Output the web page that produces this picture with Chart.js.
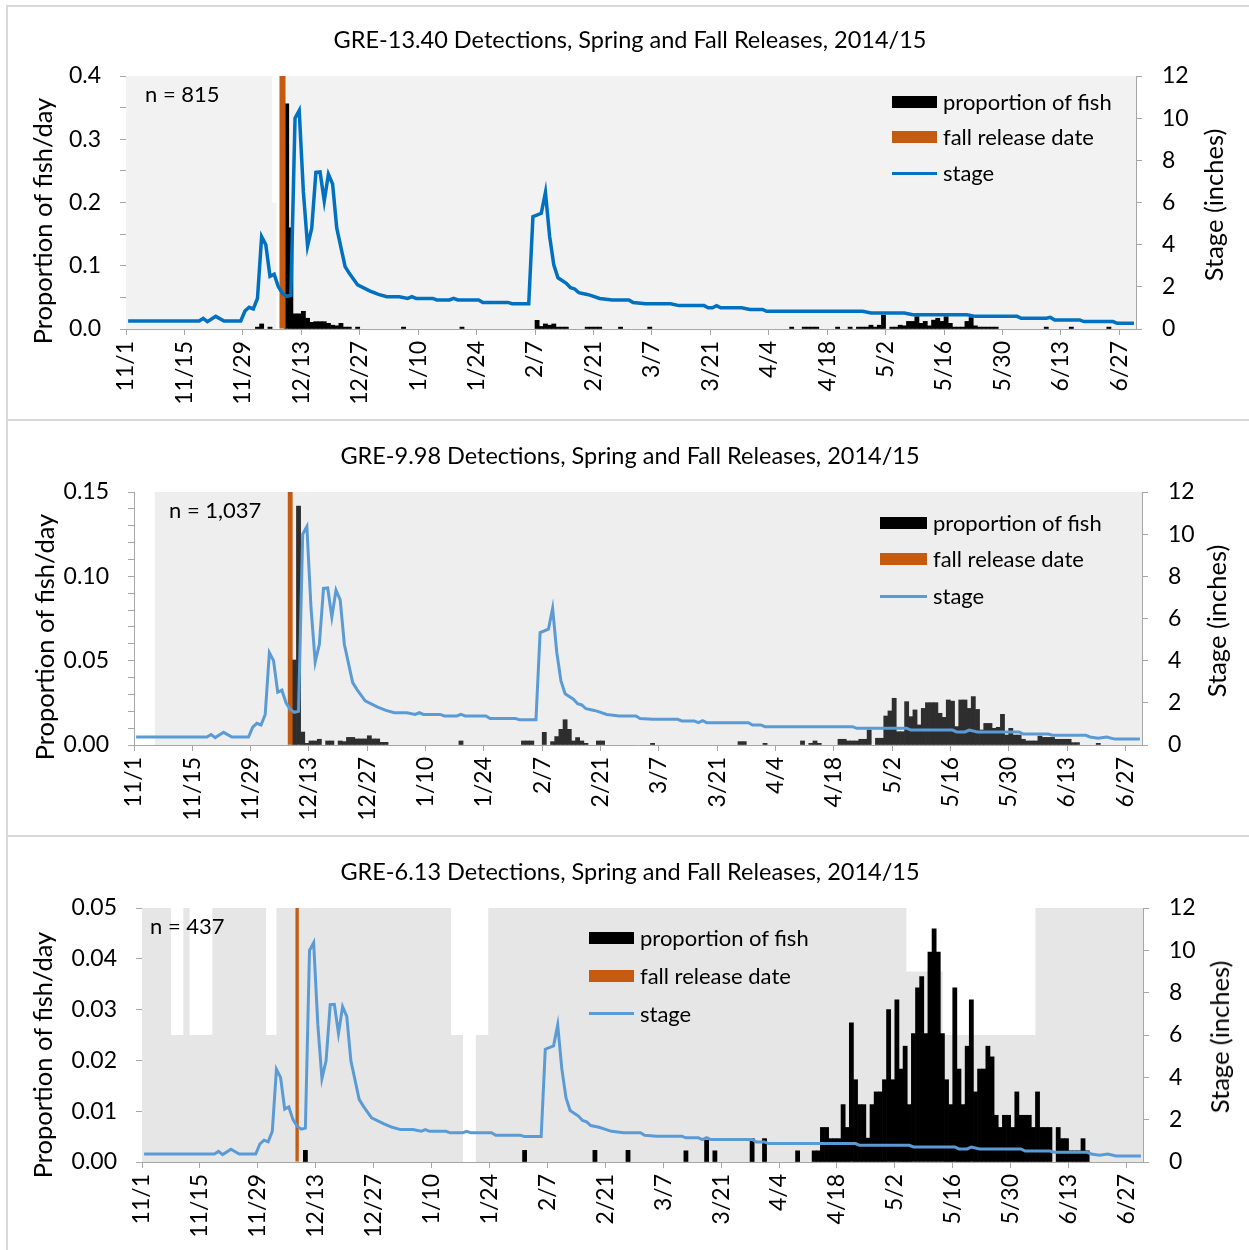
<!DOCTYPE html>
<html>
<head>
<meta charset="utf-8">
<title>GRE detections 2014/15</title>
<script src="https://cdn.jsdelivr.net/npm/chart.js@4.4.1/dist/chart.umd.min.js"></script>
<style>
  body { margin: 0; width: 1249px; height: 1250px; background: #fff; position: relative; overflow: hidden;
         font-family: Lato, "Open Sans", sans-serif; color: #000; }
  .frame { position: absolute; left: 6px; width: 1250px; border: 2px solid #d9d9d9; box-sizing: border-box; }
  canvas { position: absolute; left: 0; }
  .txt { position: absolute; white-space: nowrap; line-height: 24px; font-size: 22px; }
  .rot { position: absolute; white-space: nowrap; font-size: 25.5px; line-height: 30px;
         transform: translate(-50%, -50%) rotate(-90deg); }
  .sw { position: absolute; }
</style>
</head>
<body>
<div class="frame" style="top:5px;height:416px"></div>
<div class="frame" style="top:419px;height:418px"></div>
<div class="frame" style="top:835px;height:420px"></div>
<canvas id="c1"></canvas>
<canvas id="c2"></canvas>
<canvas id="c3"></canvas>

<script>
// =====================================================
// DATOS — dias desde 11/1/2014
// =====================================================
const DAYS = 242;
const tickLabels = ["11/1", "11/15", "11/29", "12/13", "12/27", "1/10", "1/24", "2/7", "2/21",
  "3/7", "3/21", "4/4", "4/18", "5/2", "5/16", "5/30", "6/13", "6/27"];
const stageTicks = [0, 2, 4, 6, 8, 10, 12];

const titles = [
  "GRE-13.40 Detections, Spring and Fall Releases, 2014/15",
  "GRE-9.98 Detections, Spring and Fall Releases, 2014/15",
  "GRE-6.13 Detections, Spring and Fall Releases, 2014/15"
];
const notes = ["n = 815", "n = 1,037", "n = 437"];
const legendLabels = ["proportion of fish", "fall release date", "stage"];

// fecha de liberacion de otono (dia 37 = 12/8)
const releaseDay = [37, 37, 37];

// stage (pulgadas): [dia, valor]
const stageEarly = [[0, 0.38], [17, 0.38], [18, 0.5], [19, 0.35], [21, 0.6], [23, 0.38], [27, 0.38],
  [28, 0.85], [29, 1.03], [30, 0.95], [31, 1.45], [32, 4.38], [33, 4.0], [34, 2.5], [35, 2.6],
  [36, 2.0], [37, 1.69], [38, 1.55], [39, 1.6], [40, 10.0], [41, 10.36], [42, 6.5], [43, 3.94],
  [44, 4.78], [45, 7.43], [46, 7.45], [47, 6.07], [48, 7.34], [49, 6.88], [50, 4.78], [52, 2.96],
  [53, 2.64], [55, 2.09], [58, 1.8], [60, 1.64], [62, 1.53], [65, 1.53], [67, 1.45], [68, 1.53],
  [69, 1.45], [73, 1.45], [74, 1.38], [77, 1.38], [78, 1.45], [79, 1.38], [84, 1.38], [85, 1.26],
  [91, 1.26], [92, 1.2], [96, 1.2], [97, 5.33], [99, 5.49], [100, 6.48], [101, 4.4], [102, 3.04],
  [103, 2.43], [105, 2.17], [106, 1.96], [107, 1.9], [108, 1.72], [110, 1.64], [111, 1.58],
  [113, 1.45], [116, 1.38], [120, 1.38], [121, 1.26]];
const stageTail1 = [[124, 1.2], [130, 1.2], [132, 1.11], [138, 1.11], [139, 1.01], [140, 1.01],
  [141, 1.11], [142, 1.01], [147, 1.01], [149, 0.93], [152, 0.93], [153, 0.84], [176, 0.84],
  [178, 0.76], [186, 0.76], [188, 0.68], [201, 0.68], [203, 0.6], [213, 0.6], [214, 0.51],
  [220, 0.51], [221, 0.55], [222, 0.43], [228, 0.43], [229, 0.35], [236, 0.35], [237, 0.27], [241, 0.27]];
const stageTail2 = [[124, 1.22], [130, 1.22], [131, 1.14], [134, 1.14], [135, 1.06], [136, 1.15],
  [137, 1.06], [147, 1.06], [148, 0.95], [150, 0.95], [151, 0.87], [172, 0.87], [173, 0.79],
  [185, 0.79], [186, 0.71], [196, 0.71], [197, 0.62], [199, 0.62], [200, 0.71], [202, 0.62],
  [212, 0.62], [213, 0.52], [219, 0.52], [220, 0.46], [228, 0.46], [229, 0.38], [231, 0.32],
  [233, 0.38], [235, 0.28], [241, 0.28]];

// proporcion de peces por dia: [dia, valor]
const prop1 = [[31, 0.003], [32, 0.008], [34, 0.003], [38, 0.356], [39, 0.16], [40, 0.024], [41, 0.024],
  [42, 0.028], [43, 0.017], [44, 0.0105], [45, 0.0116], [46, 0.0116], [47, 0.0116], [48, 0.009],
  [49, 0.006], [50, 0.005], [51, 0.009], [52, 0.003], [53, 0.003], [55, 0.003], [66, 0.003],
  [80, 0.003], [98, 0.0137], [99, 0.004], [100, 0.008], [101, 0.006], [102, 0.008], [103, 0.003],
  [104, 0.003], [105, 0.003], [110, 0.003], [111, 0.003], [112, 0.003], [113, 0.003], [118, 0.003],
  [125, 0.003], [159, 0.003], [162, 0.003], [163, 0.003], [164, 0.003], [165, 0.003], [170, 0.003],
  [173, 0.003], [175, 0.003], [176, 0.003], [177, 0.003], [178, 0.006], [179, 0.003], [180, 0.006],
  [181, 0.022], [183, 0.003], [184, 0.003], [185, 0.006], [186, 0.005], [187, 0.012], [188, 0.012],
  [189, 0.0195], [190, 0.009], [191, 0.012], [192, 0.005], [193, 0.014], [194, 0.017], [195, 0.012],
  [196, 0.0195], [197, 0.009], [198, 0.003], [199, 0.003], [200, 0.003], [201, 0.012], [202, 0.018],
  [203, 0.005], [204, 0.003], [205, 0.003], [206, 0.003], [207, 0.003], [208, 0.003], [220, 0.003],
  [226, 0.003], [235, 0.003]];
const prop2 = [[38, 0.0504], [39, 0.1417], [40, 0.0077], [41, 0.001], [42, 0.0024], [43, 0.0024],
  [44, 0.0034], [46, 0.0024], [47, 0.0024], [49, 0.0024], [50, 0.002], [51, 0.0045], [52, 0.0045],
  [53, 0.0036], [54, 0.0036], [55, 0.0036], [56, 0.0055], [57, 0.0036], [58, 0.0036], [59, 0.0016],
  [60, 0.0016], [78, 0.0024], [93, 0.0024], [94, 0.0024], [95, 0.0024], [98, 0.0075], [100, 0.002],
  [101, 0.005], [102, 0.0093], [103, 0.015], [104, 0.0093], [105, 0.0024], [106, 0.0044], [107, 0.0024],
  [108, 0.001], [111, 0.0024], [112, 0.0024], [124, 0.001], [145, 0.002], [146, 0.002], [151, 0.001],
  [160, 0.0024], [162, 0.001], [163, 0.0024], [164, 0.001], [169, 0.0034], [170, 0.0034], [171, 0.0024],
  [172, 0.0024], [173, 0.0024], [174, 0.0034], [175, 0.0034], [176, 0.0089], [178, 0.004], [179, 0.004],
  [180, 0.0172], [181, 0.0202], [182, 0.0277], [183, 0.0079], [184, 0.0079], [185, 0.0257], [186, 0.0168],
  [187, 0.0208], [188, 0.0119], [189, 0.0217], [190, 0.0251], [191, 0.0251], [192, 0.0251], [193, 0.0188],
  [194, 0.0164], [195, 0.0267], [196, 0.026], [197, 0.0109], [198, 0.0267], [199, 0.0267], [200, 0.0217],
  [201, 0.0287], [202, 0.0211], [203, 0.0089], [204, 0.0128], [205, 0.0128], [206, 0.0099], [207, 0.0105],
  [208, 0.0182], [209, 0.0059], [210, 0.0099], [211, 0.0059], [212, 0.0059], [213, 0.0034], [214, 0.0024],
  [215, 0.0024], [216, 0.0024], [217, 0.0053], [218, 0.0045], [219, 0.0045], [220, 0.0045], [221, 0.0034],
  [222, 0.0034], [223, 0.0034], [224, 0.0034], [225, 0.0014], [226, 0.0014], [231, 0.001]];
const prop3 = [[39, 0.0023], [92, 0.0023], [109, 0.0023], [117, 0.0023], [131, 0.0022], [136, 0.0043],
  [138, 0.0022], [147, 0.0046], [150, 0.0046], [158, 0.0022], [162, 0.0022], [163, 0.0022], [164, 0.0068],
  [165, 0.0068], [166, 0.0046], [167, 0.0046], [168, 0.0046], [169, 0.0113], [170, 0.0068], [171, 0.0274],
  [172, 0.0162], [173, 0.0113], [174, 0.0113], [175, 0.0047], [176, 0.0113], [177, 0.0138], [178, 0.0138],
  [179, 0.0162], [180, 0.03], [181, 0.0162], [182, 0.0319], [183, 0.0183], [184, 0.0228], [185, 0.0113],
  [186, 0.0253], [187, 0.0343], [188, 0.0365], [189, 0.0253], [190, 0.0413], [191, 0.0459], [192, 0.0413],
  [193, 0.0253], [194, 0.0162], [195, 0.0113], [196, 0.0343], [197, 0.0183], [198, 0.0113], [199, 0.0228],
  [200, 0.0319], [201, 0.0138], [202, 0.0183], [203, 0.0183], [204, 0.0228], [205, 0.0207], [206, 0.0092],
  [207, 0.0068], [208, 0.0092], [209, 0.0092], [210, 0.0068], [211, 0.0138], [212, 0.0092], [213, 0.0092],
  [214, 0.0092], [215, 0.0068], [216, 0.0138], [217, 0.0068], [218, 0.0068], [219, 0.0068], [221, 0.0068],
  [222, 0.0046], [223, 0.0046], [224, 0.0022], [225, 0.0022], [226, 0.0022], [227, 0.0046], [228, 0.0022]];

// cobertura de receptores (fondo gris): [dia inicio, altura en eje izq]
const cover1 = [[0, 0.4], [35, 0.2], [36, 0], [37, 0.4]];
const cover2 = [[0, 0], [5, 0.15]];
const cover3 = [[0, 0.05], [7, 0.025], [10, 0.05], [11.5, 0.025], [17, 0.05], [30, 0.025], [32.5, 0.05],
  [74.7, 0.025], [77.6, 0], [80.7, 0.025], [83.7, 0.05], [184.8, 0.0375], [193.6, 0.025], [216, 0.05]];

// =====================================================
// CONFIG visual
// =====================================================
const AXIS = "#A6A6A6";
const ORANGE = "#C55A11";
const PAD_L = 11;
const TITLE_SIZE = 23.5;
Chart.defaults.font.family = "Lato, 'Open Sans', sans-serif";
Chart.defaults.color = "#000";

const panels = [
  { id: "c1", title: titles[0], note: notes[0], prop: prop1, cover: cover1, release: releaseDay[0],
    stage: stageEarly.concat(stageTail1), barColor: "#000", legendBar: "#000", shade: "#F2F2F2",
    stageColor: "#0070C0", stageWidth: 3.5,
    yMax: 0.4, yStep: 0.05, yLabelStep: 0.1, dec: 1, relWidth: 1.45,
    box: { top: 7, height: 412 }, plot: { l: 126, r: 1136, t: 76, b: 329 }, titleY: 40,
    noteAt: [145, 94], legend: { sx: 892, sw: 45, tx: 943, rows: [102, 137, 173] },
    leftTitle: [42, 221], rightTitle: [1213, 205] },
  { id: "c2", title: titles[1], note: notes[1], prop: prop2, cover: cover2, release: releaseDay[1],
    stage: stageEarly.concat(stageTail2), barColor: "#2E2E2E", legendBar: "#000", shade: "#EEEEEE",
    stageColor: "#5B9BD5", stageWidth: 3,
    yMax: 0.15, yStep: 0.01, yLabelStep: 0.05, dec: 2, relWidth: 1.0,
    box: { top: 421, height: 414 }, plot: { l: 134, r: 1142, t: 492, b: 745 }, titleY: 456,
    noteAt: [169, 510], legend: { sx: 880, sw: 47, tx: 933, rows: [523, 558.5, 596] },
    leftTitle: [44, 637], rightTitle: [1216, 621] },
  { id: "c3", title: titles[2], note: notes[2], prop: prop3, cover: cover3, release: releaseDay[2],
    stage: stageEarly.concat(stageTail2), barColor: "#000", legendBar: "#000", shade: "#E6E6E6",
    stageColor: "#5B9BD5", stageWidth: 3,
    yMax: 0.05, yStep: 0.01, yLabelStep: 0.01, dec: 2, relWidth: 0.8,
    box: { top: 837, height: 413 }, plot: { l: 142, r: 1143, t: 908, b: 1162 }, titleY: 872,
    noteAt: [150, 926], legend: { sx: 589, sw: 45, tx: 640, rows: [937.5, 975.5, 1013.5] },
    leftTitle: [42, 1055], rightTitle: [1219, 1037] }
];

function esMultiplo(v, step) {
  return Math.abs(v / step - Math.round(v / step)) < 1e-6;
}

function crearPanel(p) {
  const canvas = document.getElementById(p.id);
  canvas.width = 1249;
  canvas.height = p.box.height;
  canvas.style.top = p.box.top + "px";

  const lh = TITLE_SIZE * 1.2;
  const lastCover = p.cover[p.cover.length - 1][1];

  new Chart(canvas, {
    type: "bar",
    data: {
      datasets: [
        {
          type: "line", label: "stage", yAxisID: "y1", order: 0,
          data: p.stage.map(([d, v]) => ({ x: d + 0.5, y: v })),
          borderColor: p.stageColor, borderWidth: p.stageWidth, pointRadius: 0, tension: 0, fill: false
        },
        {
          type: "bar", label: "fall release date", yAxisID: "y", order: 1, grouped: false,
          data: [{ x: p.release + 0.5, y: p.yMax }],
          backgroundColor: ORANGE, borderWidth: 0, barPercentage: p.relWidth, categoryPercentage: 1
        },
        {
          type: "bar", label: "proportion of fish", yAxisID: "y", order: 2, grouped: false,
          data: p.prop.map(([d, v]) => ({ x: d + 0.5, y: v })),
          backgroundColor: p.barColor, borderWidth: 0, barPercentage: 1, categoryPercentage: 1
        },
        {
          type: "line", label: "coverage", yAxisID: "y", order: 3,
          data: p.cover.map(([d, v]) => ({ x: d, y: v })).concat([{ x: DAYS, y: lastCover }]),
          stepped: "before", fill: "origin", backgroundColor: p.shade,
          borderColor: "transparent", borderWidth: 0, pointRadius: 0
        }
      ]
    },
    options: {
      responsive: false,
      animation: false,
      events: [],
      layout: { padding: { left: PAD_L, right: 0, top: 0, bottom: 0 } },
      plugins: {
        legend: { display: false },
        tooltip: { enabled: false },
        title: {
          display: true, text: p.title, color: "#000",
          font: { size: TITLE_SIZE, weight: "normal", lineHeight: 1.2 },
          padding: { top: p.titleY - p.box.top - lh / 2, bottom: p.plot.t - p.titleY - lh / 2 }
        }
      },
      scales: {
        x: {
          type: "linear", min: 0, max: DAYS, offset: false,
          afterBuildTicks: s => { s.ticks = tickLabels.map((_, k) => ({ value: k * 14 })); },
          afterFit: s => { s.height = p.box.top + p.box.height - p.plot.b; },
          ticks: {
            autoSkip: false, minRotation: 90, maxRotation: 90, padding: 6, color: "#000",
            font: { size: 23 }, callback: (v, i) => tickLabels[i]
          },
          grid: { drawOnChartArea: false, drawTicks: true, tickLength: 6, color: AXIS, offset: false },
          border: { color: AXIS, width: 1 }
        },
        y: {
          position: "left", min: 0, max: p.yMax,
          afterBuildTicks: s => {
            const n = Math.round(p.yMax / p.yStep);
            s.ticks = [];
            for (let k = 0; k <= n; k++) s.ticks.push({ value: +(k * p.yStep).toFixed(4) });
          },
          afterFit: s => { s.width = p.plot.l - PAD_L; },
          ticks: {
            autoSkip: false, padding: 19, color: "#000", font: { size: 23 },
            callback: v => esMultiplo(v, p.yLabelStep) ? v.toFixed(p.dec) : ""
          },
          grid: { drawOnChartArea: false, tickLength: 6, color: AXIS },
          border: { color: AXIS, width: 1 }
        },
        y1: {
          position: "right", min: 0, max: 12,
          afterBuildTicks: s => { s.ticks = stageTicks.map(v => ({ value: v })); },
          afterFit: s => { s.width = 1249 - p.plot.r; },
          ticks: { autoSkip: false, padding: 20, color: "#000", font: { size: 23 } },
          grid: { drawOnChartArea: false, tickLength: 6, color: AXIS },
          border: { color: AXIS, width: 1 }
        }
      }
    }
  });

  // textos: n, titulos de ejes, leyenda
  agregarTexto("txt", p.note, p.noteAt[0], p.noteAt[1] - 12);
  agregarRotado("Proportion of fish/day", p.leftTitle[0], p.leftTitle[1]);
  agregarRotado("Stage (inches)", p.rightTitle[0], p.rightTitle[1]);

  const lg = p.legend;
  agregarSwatch(lg.sx, lg.rows[0] - 6, lg.sw, 12, p.legendBar);
  agregarSwatch(lg.sx, lg.rows[1] - 6, lg.sw, 12, ORANGE);
  agregarSwatch(lg.sx, lg.rows[2] - 1.5, lg.sw, 3, p.stageColor);
  legendLabels.forEach((t, i) => agregarTexto("txt", t, lg.tx, lg.rows[i] - 12));
}

function agregarTexto(cls, text, x, y) {
  const el = document.createElement("div");
  el.className = cls;
  el.textContent = text;
  el.style.left = x + "px";
  el.style.top = y + "px";
  document.body.appendChild(el);
}

function agregarRotado(text, cx, cy) {
  const el = document.createElement("div");
  el.className = "rot";
  el.textContent = text;
  el.style.left = cx + "px";
  el.style.top = cy + "px";
  document.body.appendChild(el);
}

function agregarSwatch(x, y, w, h, color) {
  const el = document.createElement("div");
  el.className = "sw";
  el.style.cssText += `left:${x}px;top:${y}px;width:${w}px;height:${h}px;background:${color};`;
  document.body.appendChild(el);
}

panels.forEach(crearPanel);
</script>
</body>
</html>
